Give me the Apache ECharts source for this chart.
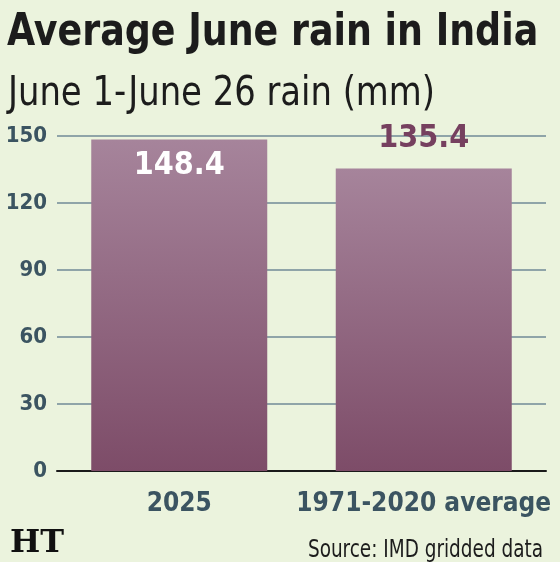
<!DOCTYPE html>
<html>
<head>
<meta charset="utf-8">
<script src="https://cdn.jsdelivr.net/npm/echarts@6/dist/echarts.min.js"></script>
<style>
  html, body { margin: 0; padding: 0; background: #ebf3dd; }
  #chart { width: 560px; height: 562px; }
</style>
</head>
<body>
<div id="chart"></div>
<script>
// june rain, mm
var categories = ['2025', '1971-2020 average'];
var rainValues = [148.4, 135.4];
var yTicks = [0, 30, 60, 90, 120, 150];

var FONT = "'Liberation Sans Narrow', 'DejaVu Sans Condensed', sans-serif";
var slate = '#3b5461';

var chart = echarts.init(document.getElementById('chart'));

var barGrad = new echarts.graphic.LinearGradient(0, 0, 0, 1, [
    { offset: 0, color: '#a6849b' },
    { offset: 1, color: '#7d4c68' }
]);

chart.setOption({
    backgroundColor: '#ebf3dd',
    animation: false,
    grid: { left: 57, right: 14, top: 136, bottom: 91 },
    xAxis: {
        type: 'category',
        data: categories,
        axisTick: { show: false },
        axisLine: { lineStyle: { color: '#1a1a1a', width: 2 } },
        axisLabel: {
            interval: 0,
            margin: 20,
            fontFamily: FONT, fontWeight: 'bold', fontSize: 26, color: slate
        }
    },
    yAxis: {
        type: 'value',
        min: yTicks[0],
        max: yTicks[yTicks.length - 1],
        interval: 30,
        axisLine: { show: false },
        axisTick: { show: false },
        splitLine: { lineStyle: { color: '#8fa4a8', width: 2 } },
        axisLabel: {
            margin: 10,
            fontFamily: FONT, fontWeight: 'bold', fontSize: 22, color: slate
        }
    },
    series: [{
        type: 'bar',
        barWidth: 176,
        data: rainValues.map(function (v, i) {
            return {
                value: v,
                label: i === 0
                    ? { position: 'insideTop', distance: 10, color: '#ffffff' }
                    : { position: 'top', distance: 14, color: '#76405f' }
            };
        }),
        itemStyle: { color: barGrad },
        label: {
            show: true,
            fontFamily: FONT, fontWeight: 'bold', fontSize: 32,
            formatter: function (p) { return p.value.toFixed(1); }
        }
    }],
    graphic: [{
        type: 'text',
        x: 7, y: 12, scaleX: 0.92,
        style: {
            text: 'Average June rain in India',
            font: "bold 44px " + FONT,
            fill: '#1c1c1c'
        }
    }, {
        type: 'text',
        x: 8, y: 75, scaleX: 0.94,
        style: {
            text: 'June 1-June 26 rain (mm)',
            font: "40px " + FONT,
            fill: '#1c1c1c'
        }
    }, {
        type: 'text',
        x: 10, y: 528,
        style: {
            text: 'HT',
            font: "bold 32px 'DejaVu Serif', serif",
            fill: '#111'
        }
    }, {
        type: 'text',
        x: 543, y: 538, scaleX: 0.82,
        style: {
            text: 'Source: IMD gridded data',
            align: 'right',
            font: "25px " + FONT,
            fill: '#1c1c1c'
        }
    }]
});
</script>
</body>
</html>
